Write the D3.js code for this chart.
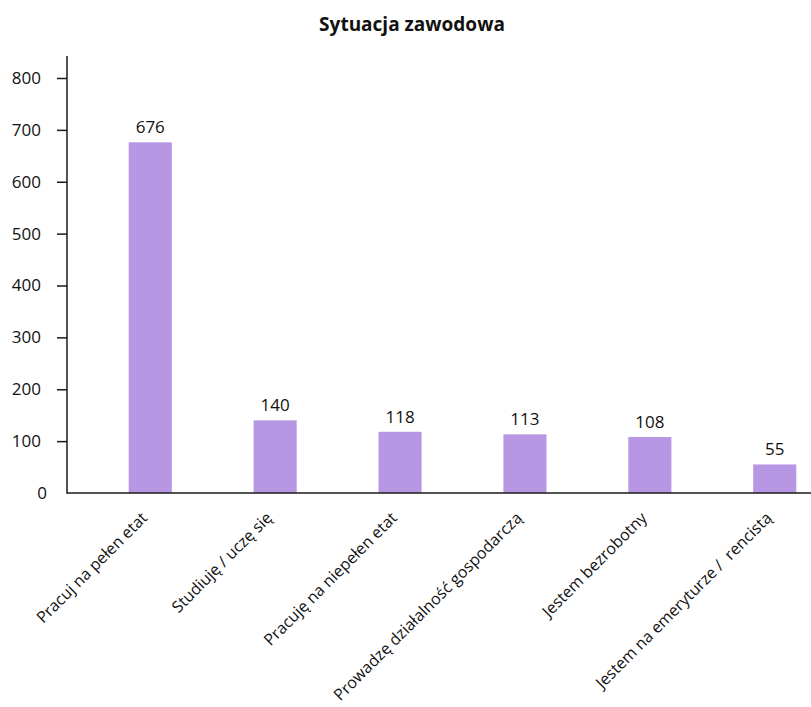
<!DOCTYPE html>
<html>
<head>
<meta charset="utf-8">
<script src="https://cdn.jsdelivr.net/npm/d3@7"></script>
<style>
  html, body { margin: 0; padding: 0; background: #fff; }
  svg text { font-family: "Open Sans", "Noto Sans", sans-serif; fill: #111; }
</style>
</head>
<body>
<svg id="chart" width="811" height="707"></svg>
<script>
// Employment situation of respondents
const categories = [
  "Pracuj na pełen etat",
  "Studiuję / uczę się",
  "Pracuję na niepełen etat",
  "Prowadzę działalność gospodarczą",
  "Jestem bezrobotny",
  "Jestem na emeryturze /  rencistą"
];
const counts = [676, 140, 118, 113, 108, 55];
const yTicks = [0, 100, 200, 300, 400, 500, 600, 700, 800];
const title = "Sytuacja zawodowa";

const svg = d3.select("#chart");
const barColor = "#b796e4";
const axisColor = "#1a1a1a";

const axisX = 67, axisY = 493, axisTop = 56;

const x = d3.scaleBand()
  .domain(categories)
  .range([87.5, 837.5])
  .paddingInner(0.655)
  .paddingOuter(0.33);

const y = d3.scaleLinear()
  .domain([0, 800])
  .range([axisY, 78]);

// Title
svg.append("text")
  .attr("x", 412)
  .attr("y", 31)
  .attr("text-anchor", "middle")
  .style("font-size", "19px")
  .style("font-weight", "700")
  .text(title);

// Bars
svg.append("g").selectAll("rect")
  .data(counts)
  .join("rect")
  .attr("x", (d, i) => x(categories[i]))
  .attr("width", x.bandwidth())
  .attr("y", d => y(d))
  .attr("height", d => axisY - y(d))
  .attr("fill", barColor);

// Value labels
svg.append("g").selectAll("text")
  .data(counts)
  .join("text")
  .attr("x", (d, i) => x(categories[i]) + x.bandwidth() / 2)
  .attr("y", d => y(d) - 9)
  .attr("text-anchor", "middle")
  .style("font-size", "17px")
  .text(d => d);

// Y axis
const yAxis = d3.axisLeft(y)
  .tickValues(yTicks.filter(v => v > 0))
  .tickSize(10)
  .tickPadding(10)
  .tickFormat(d3.format("d"));

const yg = svg.append("g")
  .attr("transform", `translate(${axisX},0)`)
  .call(yAxis);
yg.select(".domain").remove();
yg.selectAll(".tick line").attr("stroke", axisColor).attr("stroke-width", 1.5);
yg.selectAll(".tick text")
  .attr("x", -26)
  .style("font-size", "17px")
  .style("font-family", "'Open Sans', sans-serif")
  .attr("fill", "#111");

// zero label sits below the corner
svg.append("text")
  .attr("x", 47)
  .attr("y", y(0) + 6)
  .attr("text-anchor", "end")
  .style("font-size", "17px")
  .text(yTicks[0]);

// Axis lines
svg.append("line")
  .attr("x1", axisX).attr("x2", axisX)
  .attr("y1", axisTop).attr("y2", axisY + 0.75)
  .attr("stroke", axisColor).attr("stroke-width", 1.5);
svg.append("line")
  .attr("x1", axisX).attr("x2", 811)
  .attr("y1", axisY).attr("y2", axisY)
  .attr("stroke", axisColor).attr("stroke-width", 1.5);

// Category labels, rotated
const xAxis = d3.axisBottom(x).tickSize(0).tickPadding(0);
const xg = svg.append("g")
  .attr("transform", `translate(0,${axisY})`)
  .call(xAxis);
xg.select(".domain").remove();
xg.selectAll(".tick text")
  .attr("text-anchor", "end")
  .attr("dy", null)
  .attr("y", null)
  .attr("transform", "translate(-2,26) rotate(-45)")
  .style("font-size", "16px")
  .style("white-space", "pre")
  .style("font-family", "'Open Sans', sans-serif")
  .attr("fill", "#111");
</script>
</body>
</html>
